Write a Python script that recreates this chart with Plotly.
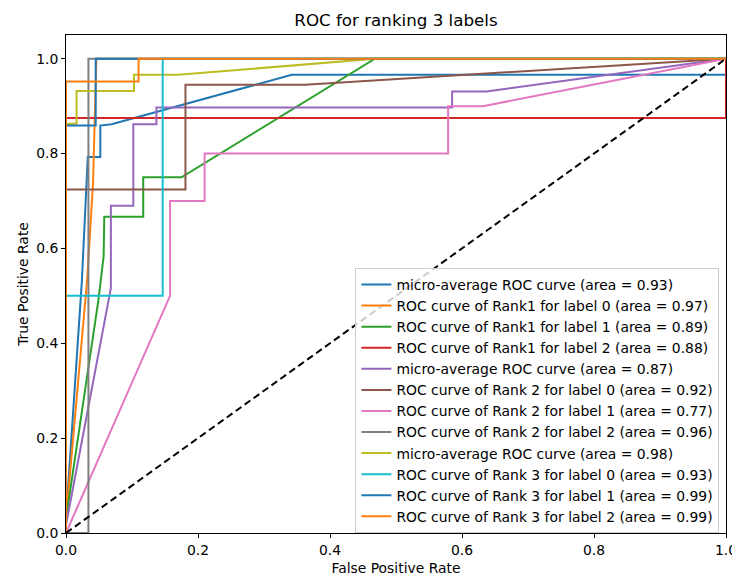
import plotly.graph_objects as go

# ---- curve data (fpr / tpr pairs) ----
fpr_micro_r1 = [0, 0, 0.024, 0.033, 0.052, 0.052, 0.069, 0.342, 1.0, 1.0]
tpr_micro_r1 = [0, 0.03, 0.53, 0.793, 0.793, 0.859, 0.862, 0.966, 0.966, 1.0]

fpr_r1_l0 = [0, 0, 0.032, 0.041, 0.046, 1.0]
tpr_r1_l0 = [0, 0.03, 0.534, 0.738, 1.0, 1.0]

fpr_r1_l1 = [0, 0, 0.049, 0.057, 0.058, 0.117, 0.117, 0.175, 0.468, 1.0]
tpr_r1_l1 = [0, 0.03, 0.49, 0.583, 0.667, 0.667, 0.75, 0.75, 1.0, 1.0]

fpr_r1_l2 = [0, 0, 1.0, 1.0]
tpr_r1_l2 = [0, 0.875, 0.875, 1.0]

fpr_micro_r2 = [0, 0, 0.068, 0.068, 0.102, 0.102, 0.137, 0.137, 0.585, 0.585, 0.637, 1.0]
tpr_micro_r2 = [0, 0.017, 0.516, 0.69, 0.69, 0.862, 0.862, 0.897, 0.897, 0.931, 0.931, 1.0]

fpr_r2_l0 = [0, 0, 0.181, 0.181, 0.362, 1.0]
tpr_r2_l0 = [0, 0.724, 0.724, 0.945, 0.945, 1.0]

fpr_r2_l1 = [0, 0.1576, 0.1576, 0.21, 0.21, 0.579, 0.579, 0.632, 1.0]
tpr_r2_l1 = [0, 0.5, 0.7, 0.7, 0.8, 0.8, 0.9, 0.9, 1.0]

fpr_r2_l2 = [0, 0.034, 0.034, 1.0]
tpr_r2_l2 = [0, 0, 1.0, 1.0]

fpr_micro_r3 = [0, 0, 0.016, 0.016, 0.103, 0.103, 0.17, 0.468, 1.0]
tpr_micro_r3 = [0, 0.863, 0.863, 0.932, 0.932, 0.966, 0.966, 1.0, 1.0]

fpr_r3_l0 = [0, 0, 0.1465, 0.1465, 1.0]
tpr_r3_l0 = [0, 0.5, 0.5, 1.0, 1.0]

fpr_r3_l1 = [0, 0, 0.045, 0.045, 1.0]
tpr_r3_l1 = [0, 0.859, 0.859, 1.0, 1.0]

fpr_r3_l2 = [0, 0, 0.11, 0.11, 1.0]
tpr_r3_l2 = [0, 0.952, 0.952, 1.0, 1.0]

curve_names = [
    "micro-average ROC curve (area = 0.93)",
    "ROC curve of Rank1 for label 0 (area = 0.97)",
    "ROC curve of Rank1 for label 1 (area = 0.89)",
    "ROC curve of Rank1 for label 2 (area = 0.88)",
    "micro-average ROC curve (area = 0.87)",
    "ROC curve of Rank 2 for label 0 (area = 0.92)",
    "ROC curve of Rank 2 for label 1 (area = 0.77)",
    "ROC curve of Rank 2 for label 2 (area = 0.96)",
    "micro-average ROC curve (area = 0.98)",
    "ROC curve of Rank 3 for label 0 (area = 0.93)",
    "ROC curve of Rank 3 for label 1 (area = 0.99)",
    "ROC curve of Rank 3 for label 2 (area = 0.99)",
]

curves = [
    (fpr_micro_r1, tpr_micro_r1), (fpr_r1_l0, tpr_r1_l0), (fpr_r1_l1, tpr_r1_l1), (fpr_r1_l2, tpr_r1_l2),
    (fpr_micro_r2, tpr_micro_r2), (fpr_r2_l0, tpr_r2_l0), (fpr_r2_l1, tpr_r2_l1), (fpr_r2_l2, tpr_r2_l2),
    (fpr_micro_r3, tpr_micro_r3), (fpr_r3_l0, tpr_r3_l0), (fpr_r3_l1, tpr_r3_l1), (fpr_r3_l2, tpr_r3_l2),
]

# matplotlib tab10 cycle
colors = ['#1f77b4', '#ff7f0e', '#2ca02c', '#d62728', '#9467bd', '#8c564b',
          '#e377c2', '#7f7f7f', '#bcbd22', '#17becf', '#1f77b4', '#ff7f0e']

chance_x = [0, 1]
chance_y = [0, 1]

FONT = "DejaVu Sans"
FS = 13.9

# the page body keeps its default 8px margin, so the figure is sized to fit inside it
W, H = 732, 574

fig = go.Figure()

for i, ((fx, ty), name) in enumerate(zip(curves, curve_names)):
    fig.add_trace(go.Scatter(
        x=fx, y=ty, mode='lines', name=name, legendgroup=f'g{i}',
        line=dict(color=colors[i], width=2)
    ))

# chance diagonal
fig.add_trace(go.Scatter(
    x=chance_x, y=chance_y, mode='lines', showlegend=False,
    line=dict(color='black', width=2, dash='7px,4px')
))

axis_style = dict(
    showgrid=False, zeroline=False, automargin=False,
    showline=True, mirror=True, linecolor='black', linewidth=1,
    ticks='outside', ticklen=4, tickwidth=1, tickcolor='black',
    tickfont=dict(family=FONT, size=FS, color='black'),
    tickformat='.1f', dtick=0.2, tick0=0,
)

fig.update_layout(
    width=W, height=H,
    margin=dict(l=58, r=14, t=27, b=49),
    paper_bgcolor='white', plot_bgcolor='white',
    font=dict(family=FONT, size=FS, color='black'),
    title=dict(
        text="ROC for ranking 3 labels",
        font=dict(family=FONT, size=16.7, color='black'),
        x=0.5, xref='paper', xanchor='center',
        y=1 - 12 / H, yref='container', yanchor='middle'
    ),
    xaxis=dict(range=[0, 1],
               title=dict(text="False Positive Rate", standoff=6, font=dict(family=FONT, size=FS)),
               **axis_style),
    yaxis=dict(range=[0, 1.05],
               title=dict(text="True Positive Rate", standoff=4, font=dict(family=FONT, size=FS)),
               **axis_style),
    legend=dict(
        x=0.99, xanchor='right', y=0.0, yanchor='bottom',
        bgcolor='rgba(255,255,255,0.8)', bordercolor='#cccccc', borderwidth=1,
        font=dict(family=FONT, size=FS, color='black'),
        itemwidth=30, tracegroupgap=0,
    ),
)

fig.write_html("out.html")
